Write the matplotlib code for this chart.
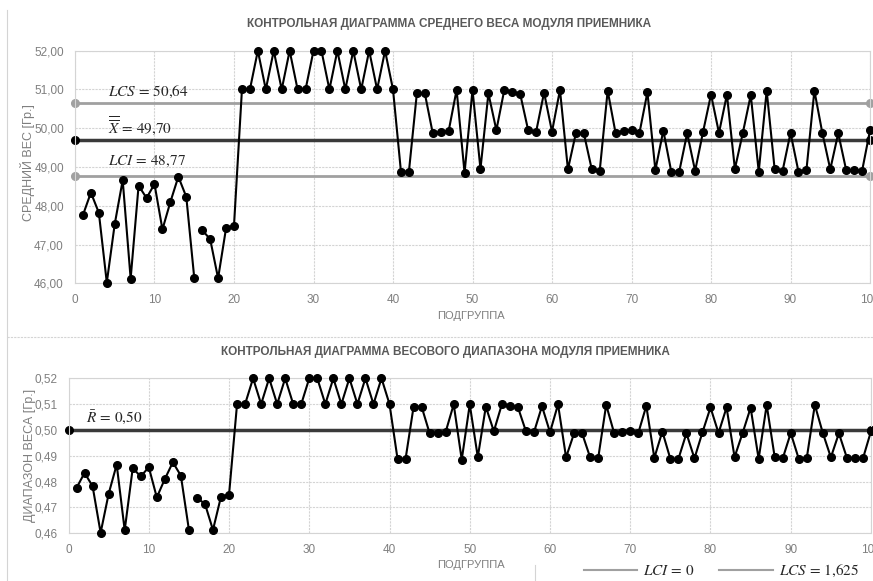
import matplotlib
matplotlib.use("Agg")
import matplotlib.pyplot as plt
from matplotlib.lines import Line2D
from matplotlib.ticker import FuncFormatter, MultipleLocator

plt.rcParams['font.family'] = ['Liberation Sans', 'DejaVu Sans']
plt.rcParams['mathtext.fontset'] = 'stix'

################################################################################
# data
################################################################################

subgroups = list(range(1, 101))
break_after = 15  # line is not joined between subgroup 15 and 16

mean_weight = [
    47.76, 48.34, 47.82, 46.02, 47.53, 48.66, 46.12, 48.52, 48.20, 48.56,
    47.39, 48.10, 48.75, 48.23, 46.14, 47.37, 47.14, 46.13, 47.42, 47.49,
    51.00, 51.00, 52.00, 51.00, 52.00, 51.00, 52.00, 51.00, 51.00, 52.00,
    52.00, 51.00, 52.00, 51.00, 52.00, 51.00, 52.00, 51.00, 52.00, 51.00,
    48.88, 48.88, 50.90, 50.90, 49.87, 49.90, 49.93, 50.99, 48.85, 50.99,
    48.95, 50.90, 49.95, 50.99, 50.94, 50.88, 49.95, 49.91, 50.92, 49.91,
    50.99, 48.94, 49.87, 49.87, 48.94, 48.90, 50.97, 49.87, 49.94, 49.95,
    49.88, 50.93, 48.92, 49.94, 48.88, 48.88, 49.87, 48.90, 49.91, 50.87,
    49.88, 50.87, 48.95, 49.88, 50.86, 48.88, 50.97, 48.95, 48.90, 49.88,
    48.88, 48.92, 50.97, 49.88, 48.94, 49.87, 48.92, 48.92, 48.90, 49.95,
]

weight_range = [
    0.4776, 0.4834, 0.4782, 0.4602, 0.4753, 0.4866, 0.4612, 0.4852, 0.4820, 0.4856,
    0.4739, 0.4810, 0.4875, 0.4823, 0.4614, 0.4737, 0.4714, 0.4613, 0.4742, 0.4749,
    0.5100, 0.5100, 0.5200, 0.5100, 0.5200, 0.5100, 0.5200, 0.5100, 0.5100, 0.5200,
    0.5200, 0.5100, 0.5200, 0.5100, 0.5200, 0.5100, 0.5200, 0.5100, 0.5200, 0.5100,
    0.4888, 0.4888, 0.5090, 0.5090, 0.4987, 0.4990, 0.4993, 0.5099, 0.4885, 0.5099,
    0.4895, 0.5090, 0.4995, 0.5099, 0.5094, 0.5088, 0.4995, 0.4991, 0.5092, 0.4991,
    0.5099, 0.4894, 0.4987, 0.4987, 0.4894, 0.4890, 0.5097, 0.4987, 0.4994, 0.4995,
    0.4988, 0.5093, 0.4892, 0.4994, 0.4888, 0.4888, 0.4987, 0.4890, 0.4991, 0.5087,
    0.4988, 0.5087, 0.4895, 0.4988, 0.5086, 0.4888, 0.5097, 0.4895, 0.4890, 0.4988,
    0.4888, 0.4892, 0.5097, 0.4988, 0.4894, 0.4987, 0.4892, 0.4892, 0.4890, 0.4995,
]

limit_x = [0, 100]
xbar_lcs = 50.64
xbar_center = 49.70
xbar_lci = 48.77
r_center = 0.50
r_lci = 0
r_lcs = 1.625

################################################################################
# style
################################################################################

GRID = '#d4d4d4'
TICK = '#7f7f7f'
TITLE = '#595959'
LIMIT = '#a0a0a0'
CENTER = '#3a3a3a'

fig = plt.figure(figsize=(8.73, 5.81), dpi=100)

def comma(decimals):
    return FuncFormatter(lambda v, p: f"{v:.{decimals}f}".replace('.', ','))

def styleAxes(ax, ymin, ymax, ystep, decimals):
    ax.set_xlim(0, 100)
    ax.set_ylim(ymin, ymax)
    ax.xaxis.set_major_locator(MultipleLocator(10))
    ax.yaxis.set_major_locator(MultipleLocator(ystep))
    ax.yaxis.set_major_formatter(comma(decimals))
    ax.grid(True, color=GRID, linestyle=(0, (2, 1)), linewidth=0.8)
    ax.set_axisbelow(True)
    for s in ax.spines.values():
        s.set_color(GRID)
        s.set_linestyle((0, (2, 1)))
        s.set_linewidth(0.8)
    ax.tick_params(length=0, colors=TICK, labelsize=8.5, pad=8)

def plotSeries(ax, values):
    kw = dict(color='black', lw=1.5, marker='o', ms=5.5, zorder=5, clip_on=False)
    ax.plot(subgroups[:break_after], values[:break_after], **kw)
    ax.plot(subgroups[break_after:], values[break_after:], **kw)

# top: mean weight
ax1 = fig.add_axes([0.0859, 0.5124, 0.9107, 0.4003])
styleAxes(ax1, 46, 52, 1, 2)
ax1.plot(limit_x, [xbar_lcs] * 2, color=LIMIT, lw=2, marker='o', ms=5.5, clip_on=False)
ax1.plot(limit_x, [xbar_center] * 2, color=CENTER, lw=2.5, marker='o', ms=5.5,
         mfc='black', mec='black', clip_on=False)
ax1.plot(limit_x, [xbar_lci] * 2, color=LIMIT, lw=2, marker='o', ms=5.5, clip_on=False)
plotSeries(ax1, mean_weight)
ax1.text(4.2, xbar_lcs + 0.31, r'$LCS\,=\,50{,}64$', fontsize=11, color='#262626', va='center')
ax1.text(4.2, xbar_center + 0.37, r'$\overline{\overline{X}}\,=\,49{,}70$', fontsize=11, color='#262626', va='center')
ax1.text(4.2, xbar_lci + 0.38, r'$LCI\,=\,48{,}77$', fontsize=11, color='#262626', va='center')
ax1.set_title('КОНТРОЛЬНАЯ ДИАГРАММА СРЕДНЕГО ВЕСА МОДУЛЯ ПРИЕМНИКА',
              fontsize=8.5, fontweight='bold', color=TITLE, pad=17, x=0.47)

# bottom: weight range
ax2 = fig.add_axes([0.0785, 0.0821, 0.9192, 0.2668])
styleAxes(ax2, 0.46, 0.52, 0.01, 2)
ax2.plot(limit_x, [r_lci] * 2, color=LIMIT, lw=1.5, label=r'$LCI\,=\,0$')
ax2.plot(limit_x, [r_lcs] * 2, color=LIMIT, lw=1.5, label=r'$LCS\,=\,1{,}625$')
ax2.plot(limit_x, [r_center] * 2, color=CENTER, lw=2.5, marker='o', ms=5.5,
         mfc='black', mec='black', clip_on=False)
plotSeries(ax2, weight_range)
ax2.text(2.2, r_center + 0.005, r'$\bar{R}\,=\,0{,}50$', fontsize=11, color='#262626', va='center')
ax2.set_title('КОНТРОЛЬНАЯ ДИАГРАММА ВЕСОВОГО ДИАПАЗОНА МОДУЛЯ ПРИЕМНИКА',
              fontsize=8.5, fontweight='bold', color=TITLE, pad=17, x=0.47)
ax2.set_ylim(0.46, 0.52)
leg = ax2.legend(loc='center left', bbox_to_anchor=(0.642, -0.243), ncol=2, frameon=False,
                 fontsize=11, handlelength=3.5, columnspacing=1.6, handletextpad=0.4,
                 borderpad=0, borderaxespad=0)
for t in leg.get_texts():
    t.set_color('#262626')

# axis titles
fig.text(0.54, 1 - 316 / 581, 'ПОДГРУППА', fontsize=8, color=TICK, ha='center', va='center')
fig.text(0.54, 1 - 565 / 581, 'ПОДГРУППА', fontsize=8, color=TICK, ha='center', va='center')
fig.text(28 / 873, 1 - 163 / 581, 'СРЕДНИЙ ВЕС [Гр.]', fontsize=9, color=TICK,
         rotation=90, ha='center', va='center')
fig.text(30 / 873, 1 - 455 / 581, 'ДИАПАЗОН ВЕСА [Гр.]', fontsize=9, color=TICK,
         rotation=90, ha='center', va='center')

# chart area borders
fig.add_artist(Line2D([7 / 873, 7 / 873], [0, 1 - 10 / 581], color=GRID, lw=0.8))
fig.add_artist(Line2D([7 / 873, 1], [1 - 337 / 581] * 2, color=GRID, lw=0.8, linestyle=(0, (2, 1))))
fig.add_artist(Line2D([535 / 873] * 2, [0, 1 - 565 / 581], color=GRID, lw=0.8))

fig.savefig('out.png', dpi=100)
